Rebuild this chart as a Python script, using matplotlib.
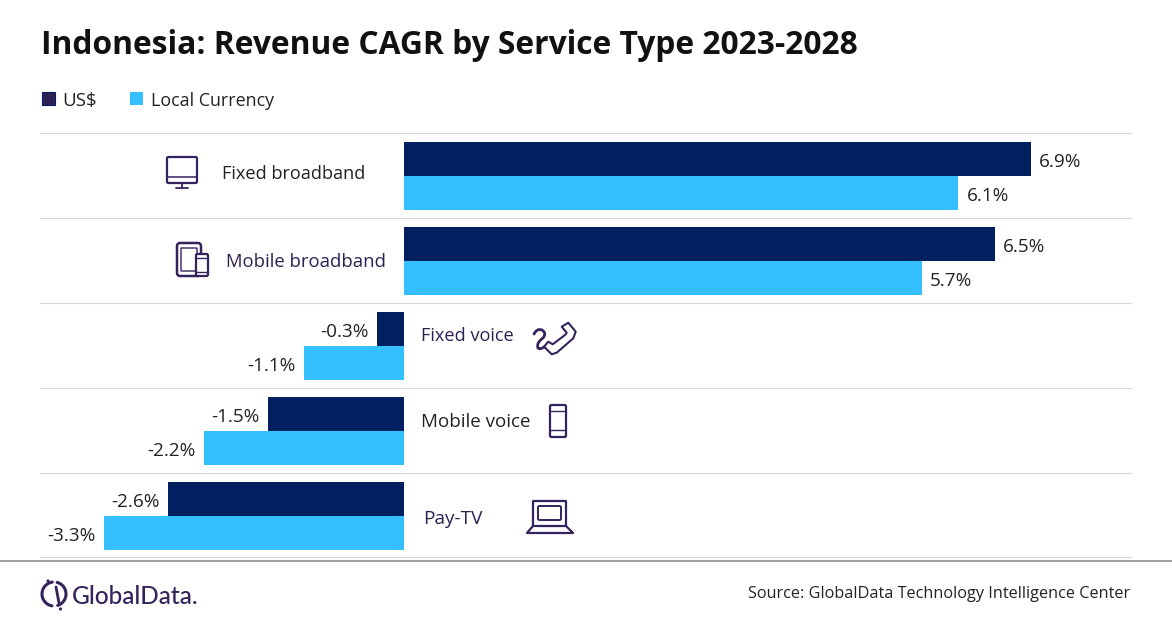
import matplotlib
matplotlib.use("Agg")
import matplotlib.pyplot as plt
import numpy as np
from matplotlib.patches import Rectangle, FancyBboxPatch, Circle, PathPatch
from matplotlib.path import Path

services = ['Fixed broadband', 'Mobile broadband', 'Fixed voice', 'Mobile voice', 'Pay-TV']
usd = [6.9, 6.5, -0.3, -1.5, -2.6]
local = [6.1, 5.7, -1.1, -2.2, -3.3]

NAVY = '#002060'
SKY = '#36BFFF'
PURPLE = '#35235c'
GRID = '#d9d9d9'
W, H = 1172, 628

plt.rcParams['font.family'] = 'Open Sans'
fig = plt.figure(figsize=(W / 100, H / 100), dpi=100)

# main chart axes: 40..1131 px across, five 85 px rows starting at 133.5
ax = fig.add_axes([40 / W, 1 - 558.5 / H, 1091 / W, 425 / H])
pos = np.arange(len(services))
ax.barh(pos - 0.2, usd, height=0.4, color=NAVY)
ax.barh(pos + 0.2, local, height=0.4, color=SKY)
ax.set_xlim(-4.006, 8.0)
ax.set_ylim(4.5, -0.5)
ax.axis('off')
for i in pos:
    for val, y in ((usd[i], i - 0.2), (local[i], i + 0.2)):
        off = 5.8 if val > 0 else -5.8
        ax.annotate('%.1f%%' % val, (val, y), xytext=(off, -2.0), textcoords='offset points',
                    ha='left' if val > 0 else 'right', va='center', fontsize=13.6, color='#222222')

# overlay in pixel coordinates for header, icons and footer
ov = fig.add_axes([0, 0, 1, 1])
ov.set_xlim(0, W)
ov.set_ylim(H, 0)
ov.axis('off')
ov.patch.set_alpha(0)

for gy in (133, 218, 303, 388, 473, 557):
    ov.plot([40, 1131], [gy, gy], color=GRID, lw=0.8)
ov.text(41, 45, 'Indonesia: Revenue CAGR by Service Type 2023-2028', fontsize=22.9,
        fontweight='bold', color='#111111', va='center', ha='left')

ov.add_patch(Rectangle((42, 92), 13, 13, fc='#2e2255', ec=NAVY, lw=0.8))
ov.text(62, 101, 'US$', fontsize=13.5, color='#222222', va='center')
ov.add_patch(Rectangle((130, 92), 13, 13, fc=SKY, ec='none'))
ov.text(151, 101, 'Local Currency', fontsize=12.9, color='#222222', va='center')

# service labels sit at different places and sizes in the picture
label_x = [222, 226, 421, 421, 423]
label_y = [174, 262, 336, 422, 519]
label_size = [13.05, 13.3, 13.1, 13.5, 13.7]
label_col = ['#222222', '#2e1f52', '#2e1f52', '#222222', '#2e1f52']
for name, x, y, s, c in zip(services, label_x, label_y, label_size, label_col):
    ov.text(x, y, name, fontsize=s, color=c, va='center', ha='left')


def box(x, y, w, h, lw=1.6, r=1.5):
    ov.add_patch(FancyBboxPatch((x, y), w, h, boxstyle='round,pad=0,rounding_size=%g' % r,
                                fc='none', ec=PURPLE, lw=lw))


def seg(xs, ys, lw=1.5):
    ov.plot(xs, ys, color=PURPLE, lw=lw, solid_capstyle='round', solid_joinstyle='round')


# desktop monitor
box(167, 157, 30, 26)
seg([167, 197], [177, 177], 1.1)
seg([182, 182], [183, 187.5], 1.3)
seg([176, 188], [187.5, 187.5], 1.3)

# tablet and phone
box(177, 243, 24, 33, lw=1.8, r=3)
box(181, 248, 16, 23, lw=1.0, r=0.5)
ov.add_patch(FancyBboxPatch((196, 254), 12, 22, boxstyle='round,pad=0,rounding_size=1.5',
                            fc='white', ec=PURPLE, lw=1.6, zorder=3))
ov.plot([196, 208], [258, 258], color=PURPLE, lw=1, zorder=4)
ov.plot([196, 208], [272, 272], color=PURPLE, lw=1, zorder=4)

# handset with curly cord
handset_xy = [(561.7, 326.7), (568.3, 322.7), (575.7, 331.7), (573.3, 338.3), (556.7, 352.7),
              (551.7, 354.3), (544, 346.7), (548.3, 341.7), (552.7, 344.3), (565, 335),
              (566.7, 332.7), (561.7, 326.7)]
ov.add_patch(PathPatch(Path(handset_xy, closed=True), fc='none', ec=PURPLE, lw=1.5, joinstyle='round'))
cord = Path([(534, 334), (537, 328), (542, 330), (547, 333), (543, 338), (536, 343), (538, 348),
             (540, 350), (544, 347)],
            [Path.MOVETO] + [Path.CURVE3] * 8)
ov.add_patch(PathPatch(cord, fc='none', ec=PURPLE, lw=2.0, capstyle='round'))

# mobile phone
box(550, 405, 16, 32)
seg([550, 566], [411, 411], 1.0)
seg([550, 566], [430, 430], 1.0)

# laptop
box(533, 501, 33, 25, lw=1.6, r=0.5)
box(538, 506, 23, 14, lw=1.4, r=1.5)
seg([533, 527, 573, 566], [526, 533, 533, 526], 1.6)

# footer
ov.plot([0, W], [561, 561], color='#8c8c8c', lw=1.2)
for a, b in ((-75, 72), (100, 262)):
    t = np.radians(np.linspace(a, b, 40))
    seg(54 + 12 * np.cos(t), 594 + 12 * np.sin(t), 2.2)
seg([56, 59], [587, 603], 2.0)
ov.add_patch(Circle((48, 581), 1.6, fc=PURPLE, ec='none'))
ov.add_patch(Circle((60.5, 609), 1.6, fc=PURPLE, ec='none'))
ov.text(72, 596, 'GlobalData.', fontsize=17.6, family='Lato', color=PURPLE, va='center',
        ha='left', fontweight='medium')
ov.text(1130, 594, 'Source: GlobalData Technology Intelligence Center', fontsize=11.7,
        color='#222222', va='center', ha='right')

fig.savefig('out.png', dpi=100)
